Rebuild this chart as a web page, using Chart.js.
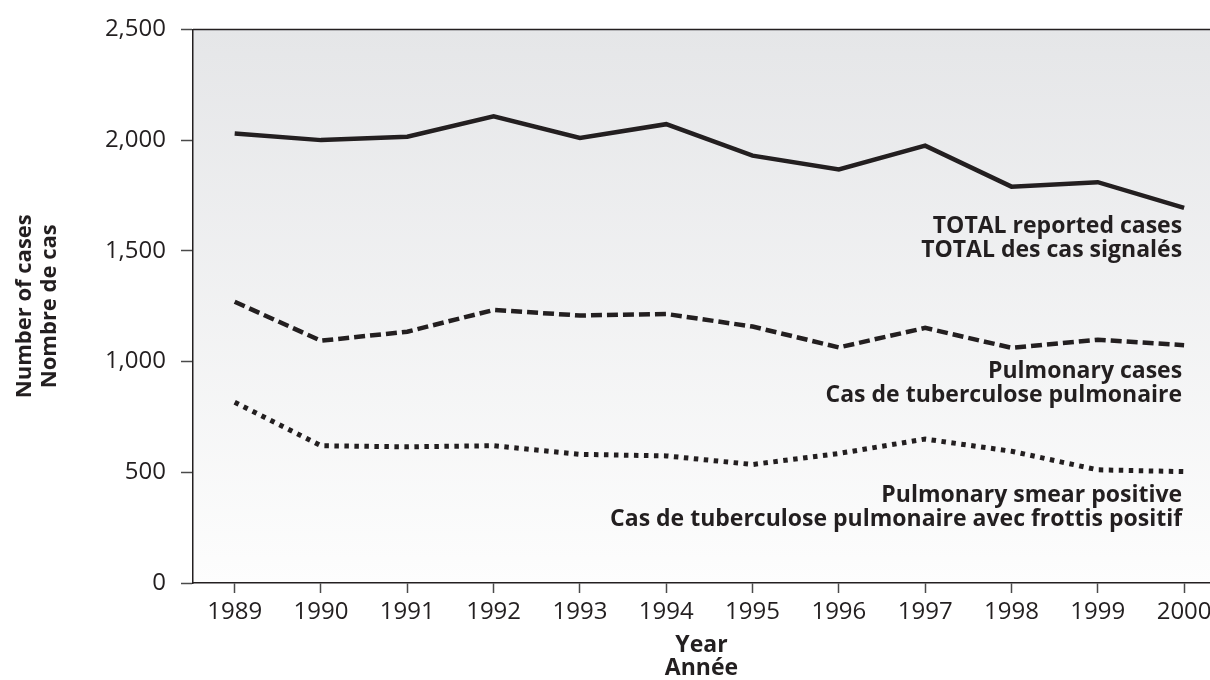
<!DOCTYPE html>
<html>
<head>
<meta charset="utf-8">
<script src="https://cdn.jsdelivr.net/npm/chart.js@4/dist/chart.umd.min.js"></script>
<style>
  html, body { margin: 0; padding: 0; background: #fff; }
  #wrap { width: 1210px; height: 680px; }
</style>
</head>
<body>
<div id="wrap"><canvas id="tbChart" width="1210" height="680"></canvas></div>
<script>
// Data
const years = [1989, 1990, 1991, 1992, 1993, 1994, 1995, 1996, 1997, 1998, 1999, 2000];
const totalCases = [2030, 2000, 2015, 2107, 2010, 2072, 1930, 1868, 1975, 1790, 1810, 1694];
const pulmonaryCases = [1270, 1094, 1135, 1233, 1208, 1215, 1158, 1064, 1152, 1062, 1099, 1074];
const smearPositive = [816, 620, 615, 620, 581, 574, 535, 585, 650, 595, 511, 503];
const yTicks = [0, 500, 1000, 1500, 2000, 2500];

const seriesLabels = [
    ['TOTAL reported cases', 'TOTAL des cas signalés'],
    ['Pulmonary cases', 'Cas de tuberculose pulmonaire'],
    ['Pulmonary smear positive', 'Cas de tuberculose pulmonaire avec frottis positif']
];

const ink = '#231f20';
const fontFamily = '"Open Sans", "Noto Sans", sans-serif';

function points(values) {
    return years.map((y, i) => ({ x: y, y: values[i] }));
}

// Gray-to-white gradient behind the plot plus the top frame line
const backdrop = {
    id: 'backdrop',
    beforeDraw(chart) {
        const { ctx, chartArea: a } = chart;
        const g = ctx.createLinearGradient(0, a.top, 0, a.bottom);
        g.addColorStop(0, '#e5e6e8');
        g.addColorStop(1, '#fdfdfd');
        ctx.save();
        ctx.fillStyle = g;
        ctx.fillRect(a.left, a.top, a.right - a.left, a.bottom - a.top);
        ctx.restore();
    },
    afterDraw(chart) {
        const { ctx, chartArea: a } = chart;
        ctx.save();
        ctx.strokeStyle = ink;
        ctx.lineWidth = 1.5;
        ctx.beginPath();
        ctx.moveTo(a.left, a.top);
        ctx.lineTo(a.right, a.top);
        ctx.stroke();
        ctx.restore();
    }
};

// Series names written under the right end of each line
const lineLabels = {
    id: 'lineLabels',
    afterDatasetsDraw(chart) {
        const { ctx } = chart;
        const xs = chart.scales.x;
        const ys = chart.scales.y;
        const offsets = [25, 33, 30];
        ctx.save();
        ctx.fillStyle = ink;
        ctx.font = 'bold 23px ' + fontFamily;
        ctx.textAlign = 'right';
        ctx.textBaseline = 'alphabetic';
        chart.data.datasets.forEach((ds, i) => {
            const last = ds.data[ds.data.length - 1];
            const x = xs.getPixelForValue(last.x) - 2;
            const y = ys.getPixelForValue(last.y) + offsets[i];
            seriesLabels[i].forEach((line, j) => ctx.fillText(line, x, y + j * 24));
        });
        ctx.restore();
    }
};

const lineStyle = {
    borderColor: ink,
    borderWidth: 4.5,
    borderCapStyle: 'butt',
    borderJoinStyle: 'miter',
    pointRadius: 0,
    tension: 0,
    fill: false
};

new Chart(document.getElementById('tbChart'), {
    type: 'line',
    data: {
        datasets: [
            { ...lineStyle, label: 'Total', data: points(totalCases) },
            { ...lineStyle, label: 'Pulmonary', data: points(pulmonaryCases), borderDash: [11, 5] },
            { ...lineStyle, label: 'Smear positive', data: points(smearPositive), borderWidth: 5, borderDash: [4.5, 5.5] }
        ]
    },
    options: {
        responsive: false,
        animation: false,
        layout: { padding: { top: 23, right: 0, left: 0, bottom: 0 } },
        plugins: {
            legend: { display: false },
            tooltip: { enabled: false }
        },
        scales: {
            x: {
                type: 'linear',
                min: 1988.517,
                max: 2000.3,
                afterFit(scale) {
                    scale.height = 97;
                    scale.paddingLeft = 0;
                    scale.paddingRight = 0;
                },
                afterBuildTicks(scale) { scale.ticks = years.map(v => ({ value: v })); },
                grid: {
                    drawOnChartArea: false,
                    drawTicks: true,
                    tickLength: 10,
                    tickWidth: 1.5,
                    tickColor: '#4a4a4a'
                },
                border: { color: ink, width: 1.5 },
                ticks: {
                    color: ink,
                    padding: 5,
                    font: { family: fontFamily, size: 24 },
                    callback: v => String(v)
                },
                title: {
                    display: true,
                    text: ['Year', 'Année'],
                    color: ink,
                    font: { family: fontFamily, size: 23, weight: 'bold', lineHeight: 1.0 },
                    padding: { top: 0, bottom: 0 }
                }
            },
            y: {
                min: 0,
                max: 2500,
                afterFit(scale) { scale.width = 193; },
                afterBuildTicks(scale) { scale.ticks = yTicks.map(v => ({ value: v })); },
                grid: {
                    drawOnChartArea: false,
                    drawTicks: true,
                    tickLength: 12,
                    tickWidth: 1.5,
                    tickColor: '#4a4a4a'
                },
                border: { color: ink, width: 1.5 },
                ticks: {
                    color: ink,
                    padding: 15,
                    font: { family: fontFamily, size: 24 },
                    callback: v => v.toLocaleString('en-US')
                },
                title: {
                    display: true,
                    text: ['Number of cases', 'Nombre de cas'],
                    color: ink,
                    font: { family: fontFamily, size: 22, weight: 'bold', lineHeight: 1.1 },
                    padding: { top: 13, bottom: 0 }
                }
            }
        }
    },
    plugins: [backdrop, lineLabels]
});
</script>
</body>
</html>
